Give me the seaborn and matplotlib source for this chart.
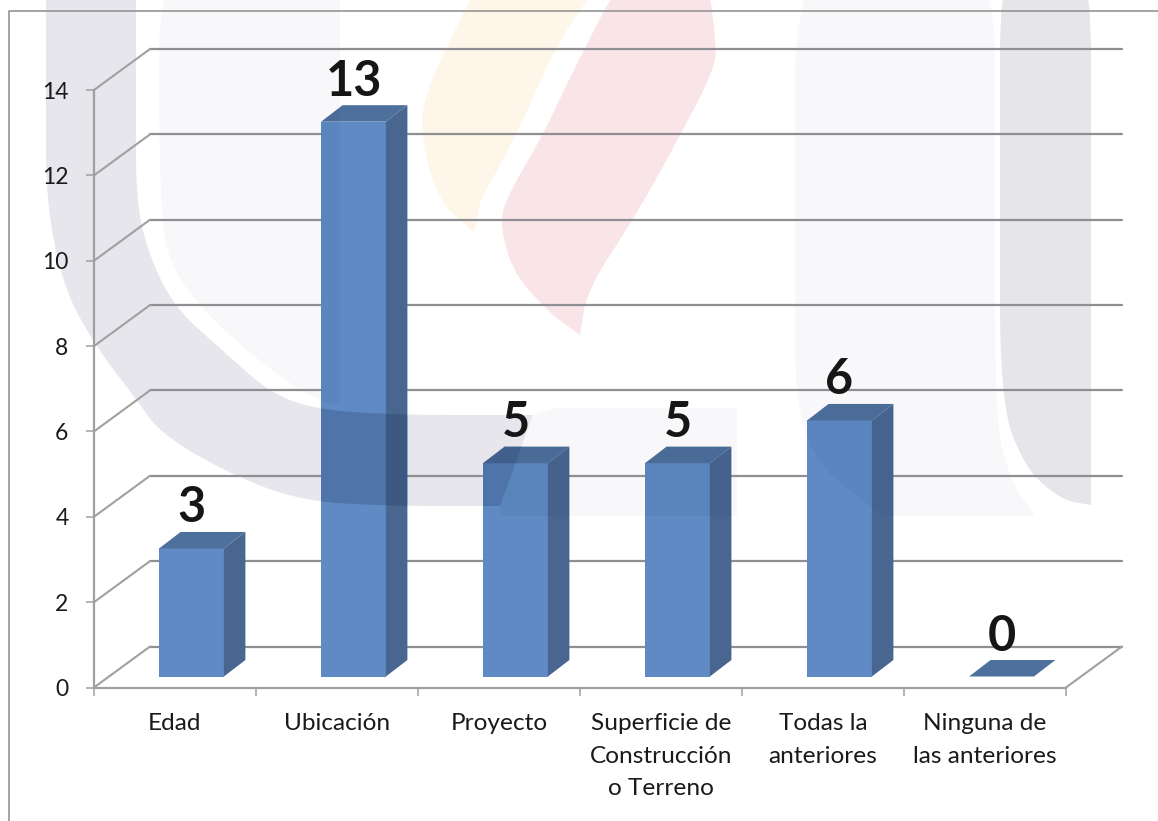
import numpy as np
import matplotlib
matplotlib.use("Agg")
import matplotlib.pyplot as plt
from matplotlib.patches import Polygon
from matplotlib.transforms import Affine2D
import seaborn as sns

categories = ["Edad", "Ubicación", "Proyecto",
              "Superficie de\nConstrucción\no Terreno",
              "Todas la\nanteriores", "Ninguna de\nlas anteriores"]
values = [3, 13, 5, 5, 6, 0]
y_ticks = [0, 2, 4, 6, 8, 10, 12, 14]

W, H = 1158, 821
FRONT, SIDE, TOP = "#5f8ac3", "#486690", "#4e709c"
GRID, AXIS = "#8f8f93", "#a0a0a0"

sns.set_theme(style="white")
plt.rcParams["font.family"] = ["Lato", "DejaVu Sans"]

fig = plt.figure(figsize=(W / 100, H / 100), dpi=100, facecolor="white")


def smooth(pts, n=3):
    """Round a watermark outline; its first and last points stay sharp."""
    p = np.asarray(pts, float)
    for _ in range(n):
        q = np.empty((2 * len(p) - 2, 2))
        q[0::2] = 0.75 * p[:-1] + 0.25 * p[1:]
        q[1::2] = 0.25 * p[:-1] + 0.75 * p[1:]
        p = np.vstack([p[0], q, p[-1]])
    return p


# faint watermark behind the chart (pixel coordinates of the page)
wm_left_dark = [(533, 415), (400, 415), (318, 410), (270, 393), (222, 350), (174, 307),
                (148, 253), (136, 200), (136, 100), (136, -80), (46, -80), (46, 100),
                (46, 200), (63, 287), (96, 347), (137, 400), (160, 433), (222, 470),
                (296, 500), (380, 506), (500, 506)]
wm_right_dark = [(1091, 505), (1061, 500), (1024, 467), (1000, 400), (1000, 200), (1000, -80),
                 (1091, -80), (1091, 200)]
wm_left_light = [(340, 405), (330, 405), (290, 385), (222, 330), (170, 270), (159, 200),
                 (159, -80), (340, -80)]
wm_mid_light = [(533, 415), (555, 408), (737, 408), (737, 516), (500, 516), (500, 506)]
wm_right_light = [(890, 516), (873, 510), (795, 445), (795, 250), (795, -80), (995, -80),
                  (995, 200), (995, 420), (1010, 480), (1035, 516)]
wm_yellow = [(474, 232), (437, 200), (420, 130), (426, 93), (450, 40), (490, -40), (620, -40),
             (563, 30), (519, 130), (481, 200)]
wm_red = [(580, 335), (587, 290), (635, 217), (687, 123), (715, 67), (716, 40), (705, -40),
          (630, -40), (570, 77), (544, 133), (505, 200), (500, 227), (515, 277), (555, 317)]

bg = fig.add_axes([0, 0, 1, 1], zorder=0)
bg.set_xlim(0, W)
bg.set_ylim(H, 0)
bg.axis("off")
shapes = [(wm_left_light, "#f8f8fb", 0.04), (wm_right_light, "#f8f8fb", 0.04),
          (wm_mid_light, "#f8f8fa", 0.05),
          (wm_left_dark, "#e6e6ec", 0.20), (wm_right_dark, "#e5e5ea", 0.20),
          (wm_yellow, "#fef6e8", 0.0), (wm_red, "#f9e5e8", 0.0)]
shape_paths = [(smooth(s), c, a) if len(s) > 6 else (np.array(s), c, a) for s, c, a in shapes]
for pts, col, _ in shape_paths:
    bg.add_patch(Polygon(pts, closed=True, fc=col, ec="none"))
bg.plot([9, 9, W], [H, 11, 11], color="#8c8c8c", lw=1.1)

# chart axes: front face of the 3D box
ax = fig.add_axes([94 / W, (H - 687.5) / H, 972 / W, 597.5 / H], zorder=1)
ax.patch.set_visible(False)
sns.barplot(x=categories, y=values, ax=ax, width=0.4, color=FRONT, saturation=1, zorder=3)
ax.set_xlim(-0.5, len(categories) - 0.5)
ax.set_ylim(0, 14)
ax.set_xlabel("")
ax.set_ylabel("")

sns.despine(ax=ax)
for sp in ("left", "bottom"):
    ax.spines[sp].set_color(AXIS)
    ax.spines[sp].set_linewidth(1.6)
ax.set_yticks(y_ticks)
ax.set_xticks(np.arange(len(categories) + 1) - 0.5, minor=True)
ax.tick_params(axis="y", length=5.8, width=1.1, color=AXIS, pad=12.5, labelsize=16.5,
               labelcolor="#1a1a1a", left=True)
ax.tick_params(axis="x", which="major", length=0, pad=18.5, labelsize=17.6, labelcolor="#1a1a1a")
ax.tick_params(axis="x", which="minor", length=5.8, width=1.1, color=AXIS, bottom=True)
for t in ax.get_xticklabels():
    t.set_linespacing(1.68)

# back wall and side wall of the box
wall = ax.transData + Affine2D().translate(56, 41)
unit_x = 972 / len(categories)
unit_y = 597.5 / 14
wall_dx, wall_dy = 56 / unit_x, 41 / unit_y
xl = ax.get_xlim()
for v in y_ticks:
    ax.plot(xl, [v, v], color=GRID, lw=1.6, transform=wall, clip_on=False, zorder=1)
    ax.plot([xl[0], xl[0] + wall_dx], [v, v + wall_dy], color=AXIS, lw=1.5, clip_on=False, zorder=1)
ax.plot([xl[1], xl[1] + wall_dx], [0, wall_dy], color=AXIS, lw=1.5, clip_on=False, zorder=1)

# bars: seaborn's front faces, shifted into the box, with side and top faces
shift = ax.transData + Affine2D().translate(16.5, 11)
depth_x, depth_y = 21.5 / unit_x, 16.5 / unit_y
faces = []
for p in list(ax.patches):
    x0, w, h = p.get_x(), p.get_width(), p.get_height()
    x1 = x0 + w
    p.set_transform(shift)
    p.set_clip_on(False)
    p.set_edgecolor("none")
    top = Polygon([(x0, h), (x1, h), (x1 + depth_x, h + depth_y), (x0 + depth_x, h + depth_y)],
                  closed=True, fc=TOP, ec="none", transform=shift, zorder=3)
    ax.add_patch(top)
    top.set_clip_on(False)
    faces.append(top)
    if h > 0:
        side = Polygon([(x1, 0), (x1 + depth_x, depth_y), (x1 + depth_x, h + depth_y), (x1, h)],
                       closed=True, fc=SIDE, ec="none", transform=shift, zorder=3)
        ax.add_patch(side)
        side.set_clip_on(False)
        faces.append(side)
        faces.append(p)
    label_tr = shift + Affine2D().translate(0, 26)
    ax.text(x0 + w / 2, h, f"{h:.0f}", transform=label_tr, ha="center", va="baseline",
            fontsize=35, fontweight="bold", color="#161616", clip_on=False, zorder=10)

# the watermark also tints the bars it crosses
for pts, _, alpha in shape_paths:
    if alpha <= 0:
        continue
    for face in faces:
        tint = Polygon(pts, closed=True, fc="#0a1f4a", ec="none", alpha=alpha,
                       transform=bg.transData, zorder=4)
        ax.add_patch(tint)
        tint.set_clip_path(face)

fig.savefig("out.png", dpi=100)
